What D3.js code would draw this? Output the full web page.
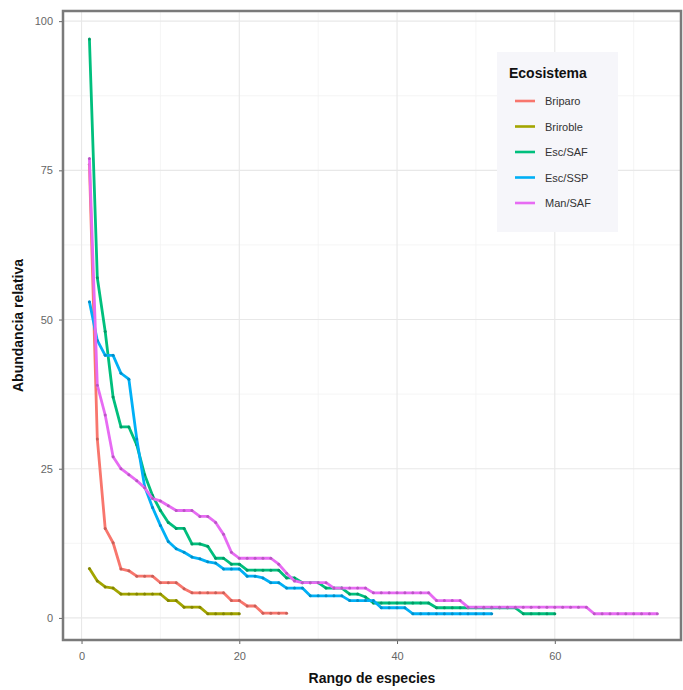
<!DOCTYPE html>
<meta charset="utf-8">
<style>
  body { margin: 0; background: #fff; }
  text { font-family: "Liberation Sans", Arial, sans-serif; }
</style>
<script src="https://d3js.org/d3.v7.min.js"></script>
<div id="chart"></div>
<script>

// categories (ecosystems) and their colours
var ecosistemas = ["Briparo", "Briroble", "Esc/SAF", "Esc/SSP", "Man/SAF"];
var colores = ["#F8766D", "#A3A500", "#00BF7D", "#00B0F6", "#E76BF3"];

// relative abundance per species rank (rank = index + 1)
var briparo = [76, 30, 15, 12.6, 8.2, 7.9, 7, 7, 7, 5.9, 5.9, 5.9, 4.9, 4.2, 4.2, 4.2, 4.2, 4.2,
  2.9, 2.9, 2, 2, 0.8, 0.8, 0.8, 0.8];
var briroble = [8.3, 6.2, 5.2, 5, 4, 4, 4, 4, 4, 4, 2.9, 2.9, 1.8, 1.8, 1.8, 0.7, 0.7, 0.7, 0.7, 0.7];
var escSAF = [97, 57, 48, 37, 32, 32, 29, 24, 20.5, 18, 16, 15, 15, 12.4, 12.4, 12, 10, 10, 9, 9,
  8, 8, 8, 8, 8, 6.7, 6.7, 5.9, 5.9, 5.9, 5, 5, 5, 4, 4, 3.5,
  2.5, 2.5, 2.5, 2.5, 2.5, 2.5, 2.5, 2.5,
  1.7, 1.7, 1.7, 1.7, 1.7, 1.7, 1.7, 1.7, 1.7, 1.7, 1.7,
  0.7, 0.7, 0.7, 0.7, 0.7];
var escSSP = [53, 46.5, 44, 44, 41, 40, 30, 22, 18.5, 15.5, 12.8, 11.6, 11, 10.2, 9.9, 9.4, 9.2,
  8.2, 8.2, 8.2, 7, 7, 6.7, 5.9, 5.9, 5, 5, 5, 3.7, 3.7, 3.7, 3.7, 3.7,
  2.9, 2.9, 2.9, 2.9, 1.7, 1.7, 1.7, 1.7,
  0.7, 0.7, 0.7, 0.7, 0.7, 0.7, 0.7, 0.7, 0.7, 0.7, 0.7];
var manSAF = [77, 39, 34, 27, 25, 24, 23, 21.8, 20, 19.6, 18.8, 18, 18, 18, 17, 17, 16, 14, 11,
  10, 10, 10, 10, 10, 9, 7.5, 6.2, 5.9, 5.9, 5.9, 5.9, 5, 5, 5, 5, 5,
  4.2, 4.2, 4.2, 4.2, 4.2, 4.2, 4.2, 4.2, 2.9, 2.9, 2.9, 2.9,
  1.8, 1.8, 1.8, 1.8, 1.8, 1.8, 1.8, 1.8, 1.8, 1.8, 1.8, 1.8, 1.8, 1.8, 1.8, 1.8,
  0.7, 0.7, 0.7, 0.7, 0.7, 0.7, 0.7, 0.7, 0.7];
var valores = [briparo, briroble, escSAF, escSSP, manSAF];

// tick labels
var xTicks = [0, 20, 40, 60];
var yTicks = [0, 25, 50, 75, 100];
var xMinor = [10, 30, 50, 70];
var yMinor = [12.5, 37.5, 62.5, 87.5];

var W = 683, H = 690;
var panel = {left: 63, right: 681, top: 11, bottom: 640};

var svg = d3.select("#chart").append("svg")
  .attr("width", W)
  .attr("height", H);

var x = d3.scaleLinear().domain([-2.35, 76]).range([panel.left, panel.right]);
var y = d3.scaleLinear().domain([-3.7, 101.7]).range([panel.bottom, panel.top]);
var color = d3.scaleOrdinal().domain(ecosistemas).range(colores);

// panel background + grid
svg.append("rect")
  .attr("x", panel.left).attr("y", panel.top)
  .attr("width", panel.right - panel.left).attr("height", panel.bottom - panel.top)
  .attr("fill", "#fff");

var grid = svg.append("g");
grid.selectAll(".xminor").data(xMinor).enter().append("line")
  .attr("x1", d => x(d)).attr("x2", d => x(d))
  .attr("y1", panel.top).attr("y2", panel.bottom)
  .attr("stroke", "#f2f2f2").attr("stroke-width", 0.8);
grid.selectAll(".yminor").data(yMinor).enter().append("line")
  .attr("y1", d => y(d)).attr("y2", d => y(d))
  .attr("x1", panel.left).attr("x2", panel.right)
  .attr("stroke", "#f2f2f2").attr("stroke-width", 0.8);
grid.selectAll(".xmajor").data(xTicks).enter().append("line")
  .attr("x1", d => x(d)).attr("x2", d => x(d))
  .attr("y1", panel.top).attr("y2", panel.bottom)
  .attr("stroke", "#e8e8e8").attr("stroke-width", 1.1);
grid.selectAll(".ymajor").data(yTicks).enter().append("line")
  .attr("y1", d => y(d)).attr("y2", d => y(d))
  .attr("x1", panel.left).attr("x2", panel.right)
  .attr("stroke", "#e8e8e8").attr("stroke-width", 1.1);

// the series
var series = ecosistemas.map(function(name, i) {
  return {name: name, values: valores[i].map(function(v, j) { return {rank: j + 1, value: v}; })};
});

var line = d3.line()
  .x(d => x(d.rank))
  .y(d => y(d.value));

var g = svg.append("g");
series.forEach(function(s) {
  g.append("path")
    .attr("d", line(s.values))
    .attr("fill", "none")
    .attr("stroke", color(s.name))
    .attr("stroke-width", 2.8)
    .attr("stroke-linejoin", "round");
  g.selectAll(null).data(s.values).enter().append("circle")
    .attr("cx", d => x(d.rank))
    .attr("cy", d => y(d.value))
    .attr("r", 1.5)
    .attr("fill", d3.color(color(s.name)).darker(0.6));
});

// panel border
svg.append("rect")
  .attr("x", panel.left).attr("y", panel.top)
  .attr("width", panel.right - panel.left).attr("height", panel.bottom - panel.top)
  .attr("fill", "none")
  .attr("stroke", "#7a7a7a")
  .attr("stroke-width", 2.5);

// axes
var xAxis = svg.append("g")
  .attr("transform", "translate(0," + (panel.bottom + 1) + ")")
  .call(d3.axisBottom(x).tickValues(xTicks).tickSize(3).tickPadding(8));
var yAxis = svg.append("g")
  .attr("transform", "translate(" + (panel.left - 1) + ",0)")
  .call(d3.axisLeft(y).tickValues(yTicks).tickSize(3).tickPadding(6));
[xAxis, yAxis].forEach(function(a) {
  a.select(".domain").remove();
  a.selectAll(".tick line").attr("stroke", "#666");
  a.selectAll(".tick text").attr("fill", "#666").style("font-size", "11px")
    .style("font-family", "Liberation Sans, Arial, sans-serif");
});

// axis titles
svg.append("text")
  .attr("x", (panel.left + panel.right) / 2)
  .attr("y", 683)
  .attr("text-anchor", "middle")
  .style("font-size", "14px").style("font-weight", "bold")
  .attr("fill", "#111")
  .text("Rango de especies");
svg.append("text")
  .attr("transform", "translate(23," + ((panel.top + panel.bottom) / 2) + ") rotate(-90)")
  .attr("text-anchor", "middle")
  .style("font-size", "14px").style("font-weight", "bold")
  .attr("fill", "#111")
  .text("Abundancia relativa");

// legend
var legend = svg.append("g").attr("transform", "translate(497,52)");
legend.append("rect")
  .attr("width", 121).attr("height", 180)
  .attr("fill", "#f6f6fa");
legend.append("text")
  .attr("x", 12).attr("y", 26)
  .style("font-size", "14px").style("font-weight", "bold")
  .attr("fill", "#111")
  .text("Ecosistema");
var items = legend.selectAll(".item").data(ecosistemas).enter().append("g")
  .attr("transform", (d, i) => "translate(0," + (49 + i * 25.5) + ")");
items.append("line")
  .attr("x1", 18).attr("x2", 38)
  .attr("stroke", d => color(d))
  .attr("stroke-width", 2.6);
items.append("text")
  .attr("x", 48).attr("y", 4)
  .style("font-size", "11px")
  .attr("fill", "#333")
  .text(d => d);

</script>
